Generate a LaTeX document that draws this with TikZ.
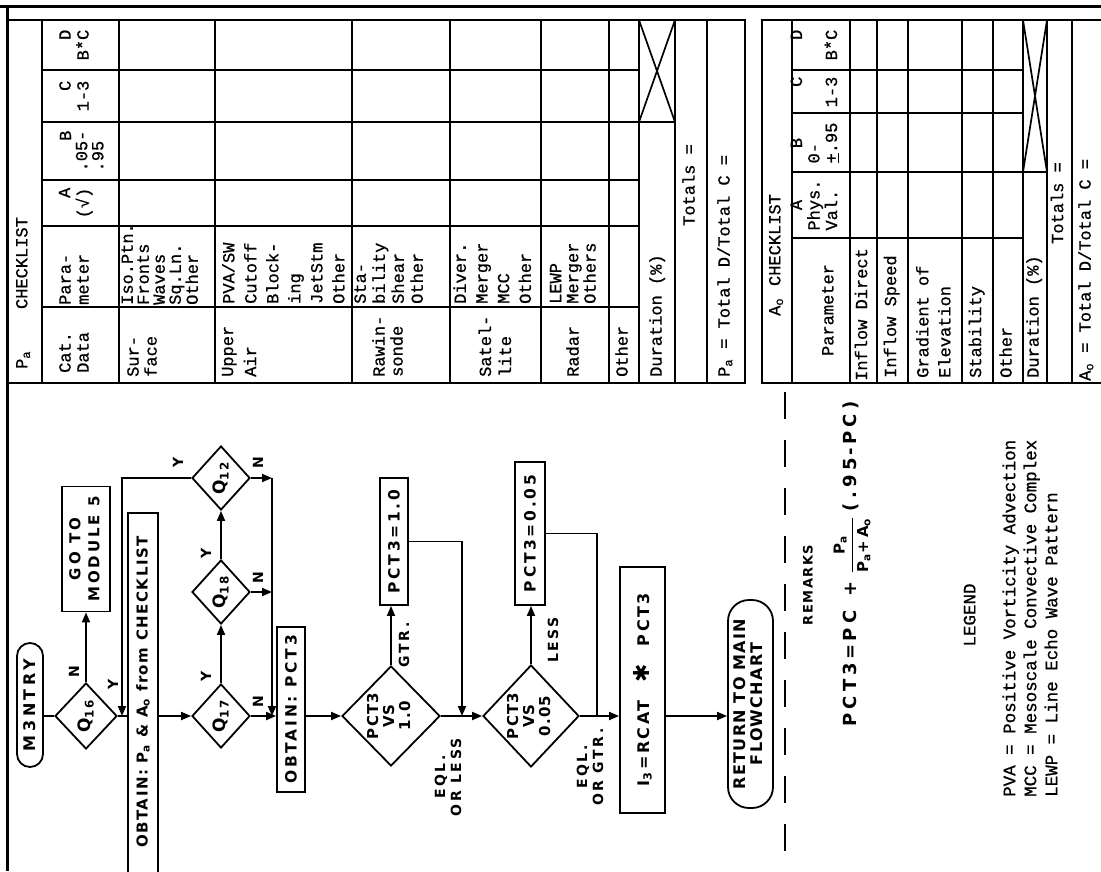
\documentclass[tikz,border=0pt]{standalone}
\usepackage{fontspec}
\usetikzlibrary{shapes.geometric,arrows.meta}
\newfontfamily\flowfont[LetterSpace=15]{DejaVu Sans}
\newfontfamily\tabfont[FakeBold=0.8]{Liberation Mono}
\newcommand\R[1]{\rotatebox{90}{#1}}
\newcommand\VT[3][l]{\rotatebox{90}{\fontsize{17}{#2}\selectfont\begin{tabular}{@{}#1@{}}#3\end{tabular}}}
\newcommand\LT[3][l]{\rotatebox{90}{\fontsize{17.5}{#2}\selectfont\begin{tabular}{@{}#1@{}}#3\end{tabular}}}
\newcommand\FT[2][c]{\rotatebox{90}{\begin{tabular}{@{}#1@{}}#2\end{tabular}}}
\tikzset{
  tl/.style={line width=1.7pt},
  fl/.style={draw, line width=1.8pt, inner sep=0pt, font=\flowfont\bfseries\fontsize{15}{17}\selectfont},
  fbox/.style={fl, rectangle},
  fdia/.style={fl, diamond},
  lab/.style={inner sep=0pt, font=\flowfont\bfseries\fontsize{14}{16}\selectfont},
  flab/.style={inner sep=0pt, font=\flowfont\bfseries\addfontfeature{LetterSpace=18}\fontsize{14}{16}\selectfont},
  tc/.style={inner sep=0pt, font=\tabfont},
  arr/.style={-{Triangle[length=10pt,width=8pt]}},
  ln/.style={line width=1.8pt}
}
\begin{document}
\begin{tikzpicture}[x=1pt,y=-1pt]
\useasboundingbox (0,0) rectangle (1101,871);
\fill[white] (0,0) rectangle (1101,871);
\clip (0,0) rectangle (1101,871);
% page borders
\draw[line width=3pt] (0,6) -- (1101,6);
\draw[line width=3pt] (7,6) -- (7,871);
% ---------- P_a table ----------
\draw[tl] (7,20) -- (745,20) -- (745,383) -- (7,383);
\foreach \x in {42,119,215,352,450,541,609,639,675,707} \draw[tl] (\x,20) -- (\x,383);
\foreach \y in {70,122,180,226,307} \draw[tl] (42,\y) -- (639,\y);
\draw[tl] (639,122) -- (675,122);
\draw[tl] (639,20) -- (675,122) (639,122) -- (675,20);
\node[tc,anchor=south] at (24,369) {\VT{17}{P\textsubscript{a}\hspace{42pt}CHECKLIST}};
\node[tc,anchor=south] at (76,373) {\VT{18}{Cat.\\Data}};
\node[tc,anchor=south] at (76,305) {\VT{18}{Para-\\meter}};
\node[tc] at (76,203) {\VT[r]{18}{A\\(√)}};
\node[tc] at (84,151) {\VT{16}{\hfill B\\.05-\\.95}};
\node[tc] at (76,96) {\VT[r]{18}{C\\1-3}};
\node[tc] at (76,45) {\VT[r]{18}{D\\B*C}};
\node[tc,anchor=south] at (144,377) {\VT{18}{Sur-\\face}};
\node[tc,anchor=south] at (162,305) {\VT{15.7}{Iso.Ptn.\\Fronts\\Waves\\Sq.Ln.\\Other}};
\node[tc,anchor=south] at (240,377) {\VT{23}{Upper\\Air}};
\node[tc,anchor=south] at (285,304) {\VT{22}{PVA/SW\\Cutoff\\Block-\\ing\\JetStm\\Other}};
\node[tc,anchor=south] at (390,377) {\VT{18}{Rawin-\\sonde}};
\node[tc,anchor=south] at (390.5,304) {\VT{19}{Sta-\\bility\\Shear\\Other}};
\node[tc,anchor=south] at (497,377) {\VT{20}{Satel-\\lite}};
\node[tc,anchor=south] at (494,304) {\VT{21.7}{Diver.\\Merger\\MCC\\Other}};
\node[tc,anchor=south] at (575,377) {\VT{17}{Radar}};
\node[tc,anchor=south] at (575,304) {\VT{17}{LEWP\\Merger\\Others}};
\node[tc,anchor=south] at (624,377) {\VT{17}{Other}};
\node[tc,anchor=south] at (658,377) {\VT{17}{Duration (\%)}};
\node[tc] at (691,185) {\VT{17}{Totals =}};
\node[tc,anchor=south] at (726,377) {\VT{17}{P\textsubscript{a} = Total D/Total C =}};
% ---------- A_o table ----------
\draw[tl] (1101,20) -- (762,20) -- (762,383) -- (1101,383);
\foreach \x in {792,850,877,908,962,993,1023,1047,1072} \draw[tl] (\x,20) -- (\x,383);
\foreach \y in {70,113,172,238} \draw[tl] (792,\y) -- (1023,\y);
\draw[tl] (1023,172) -- (1047,172);
\draw[tl] (1023,20) -- (1047,172) (1023,172) -- (1047,20);
\node[tc,anchor=south] at (777,316) {\VT{17}{A\textsubscript{o}\hspace{12pt}CHECKLIST}};
\node[tc] at (830,310) {\VT{17}{Parameter}};
\node[tc] at (816,205) {\VT{17.5}{\hfill A\hfill\hbox{}\\Phys.\\Val.}};
\node[tc] at (816,143) {\VT{17.5}{\hfill B\hfill\hbox{}\\0-\\\underline{+}.95}};
\node[tc] at (816,92) {\VT[r]{17.5}{C\\ \\1-3}};
\node[tc] at (816,45) {\VT[r]{17.5}{D\\ \\B*C}};
\node[tc,anchor=south] at (863.5,381) {\VT{17}{Inflow Direct}};
\node[tc,anchor=south] at (892.5,378) {\VT{17}{Inflow Speed}};
\node[tc,anchor=south] at (935,378) {\VT{22}{Gradient of\\Elevation}};
\node[tc,anchor=south] at (977.5,378) {\VT{17}{Stability}};
\node[tc,anchor=south] at (1008,378) {\VT{17}{Other}};
\node[tc,anchor=south] at (1035,378) {\VT{17}{Duration (\%)}};
\node[tc] at (1059.5,203) {\VT{17}{Totals =}};
\node[tc,anchor=south] at (1087,381) {\VT{17}{A\textsubscript{o} = Total D/Total C =}};
% ---------- flowchart ----------
\node[fbox, rounded corners=13pt, minimum width=26pt, minimum height=124pt, font=\flowfont\bfseries\addfontfeature{LetterSpace=22}\fontsize{16}{18}\selectfont] (m3) at (30,705) {\R{M3NTRY}};
\node[fdia, minimum width=62pt, minimum height=66pt, font=\flowfont\bfseries\fontsize{17}{18}\selectfont] (q16) at (86,716) {\R{Q\textsubscript{16}}};
\node[fbox, minimum width=48pt, minimum height=125pt, font=\flowfont\bfseries\addfontfeature{LetterSpace=20}\fontsize{15}{19}\selectfont] (go5) at (86,549) {\FT{GO TO\\MODULE 5}};
\node[fbox, minimum width=30pt, minimum height=367pt] (ob1) at (143,696.5) {};
\node[inner sep=0pt, font=\flowfont\bfseries\addfontfeature{LetterSpace=10}\fontsize{15}{17}\selectfont] (ob1t) at (143,692) {\R{OBTAIN: P\textsubscript{a} \& A\textsubscript{o} from CHECKLIST}};
\node[fdia, minimum width=58pt, minimum height=64pt, font=\flowfont\bfseries\fontsize{17}{18}\selectfont] (q17) at (221,716) {\R{Q\textsubscript{17}}};
\node[fdia, minimum width=58pt, minimum height=64pt, font=\flowfont\bfseries\fontsize{17}{18}\selectfont] (q18) at (221,592) {\R{Q\textsubscript{18}}};
\node[fdia, minimum width=58pt, minimum height=64pt, font=\flowfont\bfseries\fontsize{17}{18}\selectfont] (q12) at (221,478) {\R{Q\textsubscript{12}}};
\node[fbox, minimum width=28pt, minimum height=165pt, font=\flowfont\bfseries\addfontfeature{LetterSpace=18}\fontsize{15.5}{17}\selectfont] (ob2) at (291,709.5) {\R{OBTAIN: PCT3}};
\node[fdia, minimum width=98pt, minimum height=100pt, font=\flowfont\bfseries\addfontfeature{LetterSpace=8}\fontsize{15}{16}\selectfont] (d1) at (391,716) {\FT{PCT3\\VS\\1.0}};
\node[fbox, minimum width=28pt, minimum height=127pt, font=\flowfont\bfseries\addfontfeature{LetterSpace=18}\fontsize{15.5}{17}\selectfont] (b1) at (394,541.5) {\R{PCT3\,=\,1.0}};
\node[fdia, minimum width=96pt, minimum height=102pt, font=\flowfont\bfseries\addfontfeature{LetterSpace=8}\fontsize{15}{16}\selectfont] (d2) at (531,716) {\FT{PCT3\\VS\\0.05}};
\node[fbox, minimum width=30pt, minimum height=143pt, font=\flowfont\bfseries\addfontfeature{LetterSpace=18}\fontsize{15.5}{17}\selectfont] (b2) at (530,533.5) {\R{PCT3\,=\,0.05}};
\node[fbox, minimum width=45pt, minimum height=246pt, font=\flowfont\bfseries\addfontfeature{LetterSpace=15}\fontsize{16}{17}\selectfont] (i3) at (642.5,690) {\R{I\textsubscript{3}\,=\,RCAT\hspace{18pt}{\fontsize{22}{22}\selectfont ✱}\hspace{18pt}PCT3}};
\node[fbox, rounded corners=21pt, minimum width=45pt, minimum height=208pt, font=\flowfont\bfseries\addfontfeature{LetterSpace=8}\fontsize{16}{16}\selectfont] (ret) at (750.5,704) {\FT{RETURN TO MAIN\\FLOWCHART}};
% coordinates
\coordinate (j1) at (122,716);
\coordinate (bus1) at (272,478);
\coordinate (bus2) at (272,592);
\coordinate (bus3) at (272,716);
\coordinate (j2) at (462,716);
\coordinate (j3) at (597,716);
% connectors
\draw[ln] (m3.east |- q16.west) -- (q16.west);
\draw[ln,arr] (q16.north) -- (q16.north |- go5.south);
\draw[ln] (q16.east) -- (ob1.west |- q16.east);
\draw[ln,arr] (q12.west) -| (j1);
\draw[ln,arr] (ob1.east |- q17.west) -- (q17.west);
\draw[ln,arr] (q17.north) -- (q18.south);
\draw[ln,arr] (q18.north) -- (q12.south);
\draw[ln,arr] (q12.east) -- (bus1);
\draw[ln,arr] (q18.east) -- (bus2);
\draw[ln,arr] (bus1) -- (bus3);
\draw[ln,arr] (q17.east) -- (ob2.west |- q17.east);
\draw[ln,arr] (ob2.east |- d1.west) -- (d1.west);
\draw[ln,arr] (d1.north) -- (d1.north |- b1.south);
\draw[ln,arr] (b1.east) -| (j2);
\draw[ln,arr] (d1.east) -- (d2.west);
\draw[ln,arr] (d2.north) -- (d2.north |- b2.south);
\draw[ln] (b2.east) -| (j3);
\draw[ln,arr] (d2.east) -- (i3.west |- d2.east);
\draw[ln,arr] (i3.east |- d2.east) -- (ret.west |- d2.east);
% labels
\node[lab] at (74,672) {\R{N}};
\node[lab] at (113,684) {\R{Y}};
\node[lab] at (206,676) {\R{Y}};
\node[lab] at (206,553) {\R{Y}};
\node[lab] at (178,462) {\R{Y}};
\node[lab] at (258,463) {\R{N}};
\node[lab] at (258,578) {\R{N}};
\node[lab] at (258,702) {\R{N}};
\node[flab] at (404,645) {\R{GTR.}};
\node[flab] at (450,777) {\FT{EQL.\\OR LESS}};
\node[flab] at (553,640) {\R{LESS}};
\node[flab] at (592,767) {\FT{EQL.\\OR GTR.}};
% separator
\draw[line width=2.2pt, dash pattern=on 27pt off 21pt] (785,392) -- (785,871);
% remarks
\node[inner sep=0pt, font=\flowfont\bfseries\addfontfeature{LetterSpace=12}\fontsize{13}{15}\selectfont] at (808,585) {\R{REMARKS}};
\node[inner sep=0pt, font=\flowfont\bfseries\addfontfeature{LetterSpace=24}\fontsize{18}{20}\selectfont] at (852,564) {\R{PCT3\,=\,PC\hspace{14pt}+\hspace{8pt}$\displaystyle\frac{\hbox{\fontsize{15}{15}\selectfont P\textsubscript{a}}}{\hbox{\fontsize{15}{15}\selectfont P\textsubscript{a}+A\textsubscript{o}}}$\hspace{6pt}(.95\,-\,PC)}};
% legend
\node[tc] at (972,615) {\LT{17}{LEGEND}};
\node[tc,anchor=south] at (1032,797) {\LT{21}{PVA = Positive Vorticity Advection\\MCC = Mesoscale Convective Complex\\LEWP = Line Echo Wave Pattern}};
\end{tikzpicture}
\end{document}
